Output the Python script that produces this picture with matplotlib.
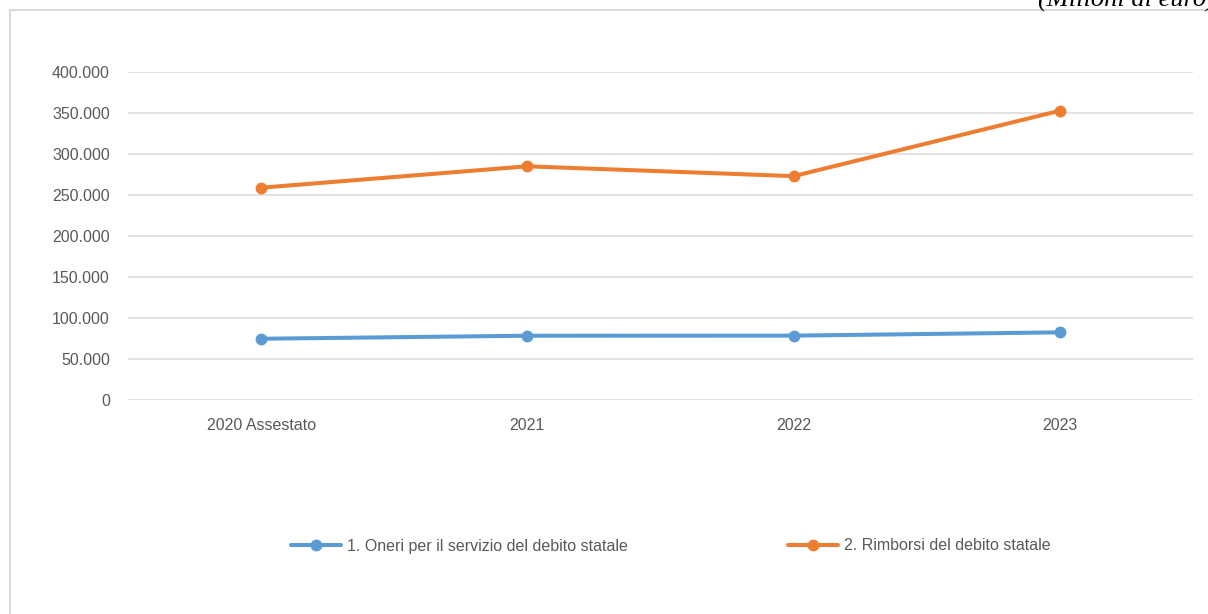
import matplotlib
matplotlib.use("Agg")
import matplotlib.pyplot as plt
from matplotlib.ticker import FuncFormatter

# valori (milioni di euro)
categorie = ["2020 Assestato", "2021", "2022", "2023"]
oneri = [74700, 78400, 78500, 82500]
rimborsi = [258900, 285000, 273000, 352800]
nome_oneri = "1. Oneri per il servizio del debito statale"
nome_rimborsi = "2. Rimborsi del debito statale"
y_ticks = [0, 50000, 100000, 150000, 200000, 250000, 300000, 350000, 400000]

BLU = "#5B9BD5"
ARANCIO = "#ED7D31"
GRIGIO = "#595959"

plt.rcParams['font.family'] = ['Liberation Sans Narrow', 'Liberation Sans', 'DejaVu Sans']

fig = plt.figure(figsize=(12.08, 6.14), dpi=100)
ax = fig.add_axes([128 / 1208, 1 - 400 / 614, (1193 - 128) / 1208, (400 - 72) / 614])

xs = list(range(len(categorie)))
ax.plot(xs, oneri, '-o', color=BLU, lw=2.9, ms=7.5, label=nome_oneri, solid_capstyle='round')
ax.plot(xs, rimborsi, '-o', color=ARANCIO, lw=2.9, ms=7.5, label=nome_rimborsi, solid_capstyle='round')

ax.set_xlim(-0.5, len(categorie) - 0.5)
ax.set_ylim(0, 400000)
ax.set_xticks(xs)
ax.set_xticklabels(categorie)
ax.set_yticks(y_ticks)


def fmt(v, pos):
    return f"{int(v):,}".replace(",", ".")


ax.yaxis.set_major_formatter(FuncFormatter(fmt))
ax.tick_params(axis='both', length=0, labelsize=11.5, colors=GRIGIO)
ax.tick_params(axis='x', pad=13)
ax.tick_params(axis='y', pad=13)
ax.grid(axis='y', color="#D9D9D9", lw=1.1)
ax.set_axisbelow(True)
for s in ax.spines.values():
    s.set_visible(False)

leg = fig.legend(loc='center', bbox_to_anchor=(671 / 1208, 1 - 546 / 614), ncol=2,
                 frameon=False, fontsize=11.5, handlelength=3.1, handletextpad=0.4,
                 columnspacing=10)
for t in leg.get_texts():
    t.set_color(GRIGIO)

# cornice dell'area grafico (solo lati sinistro e superiore visibili)
fig.add_artist(plt.Line2D([10 / 1208, 10 / 1208], [0, 1 - 10 / 614], color="#D9D9D9", lw=1.5,
                          transform=fig.transFigure))
fig.add_artist(plt.Line2D([10 / 1208, 1], [1 - 10 / 614, 1 - 10 / 614], color="#D9D9D9", lw=1.5,
                          transform=fig.transFigure))

# nota in alto a destra, tagliata dal bordo come nell'originale
fig.text(1038 / 1208, 1 - 7 / 614, "(Milioni di euro)", fontsize=19, style='italic',
         family=['Liberation Serif', 'DejaVu Serif'], color="#000000", ha='left', va='baseline')

fig.savefig("out.png", dpi=100)
